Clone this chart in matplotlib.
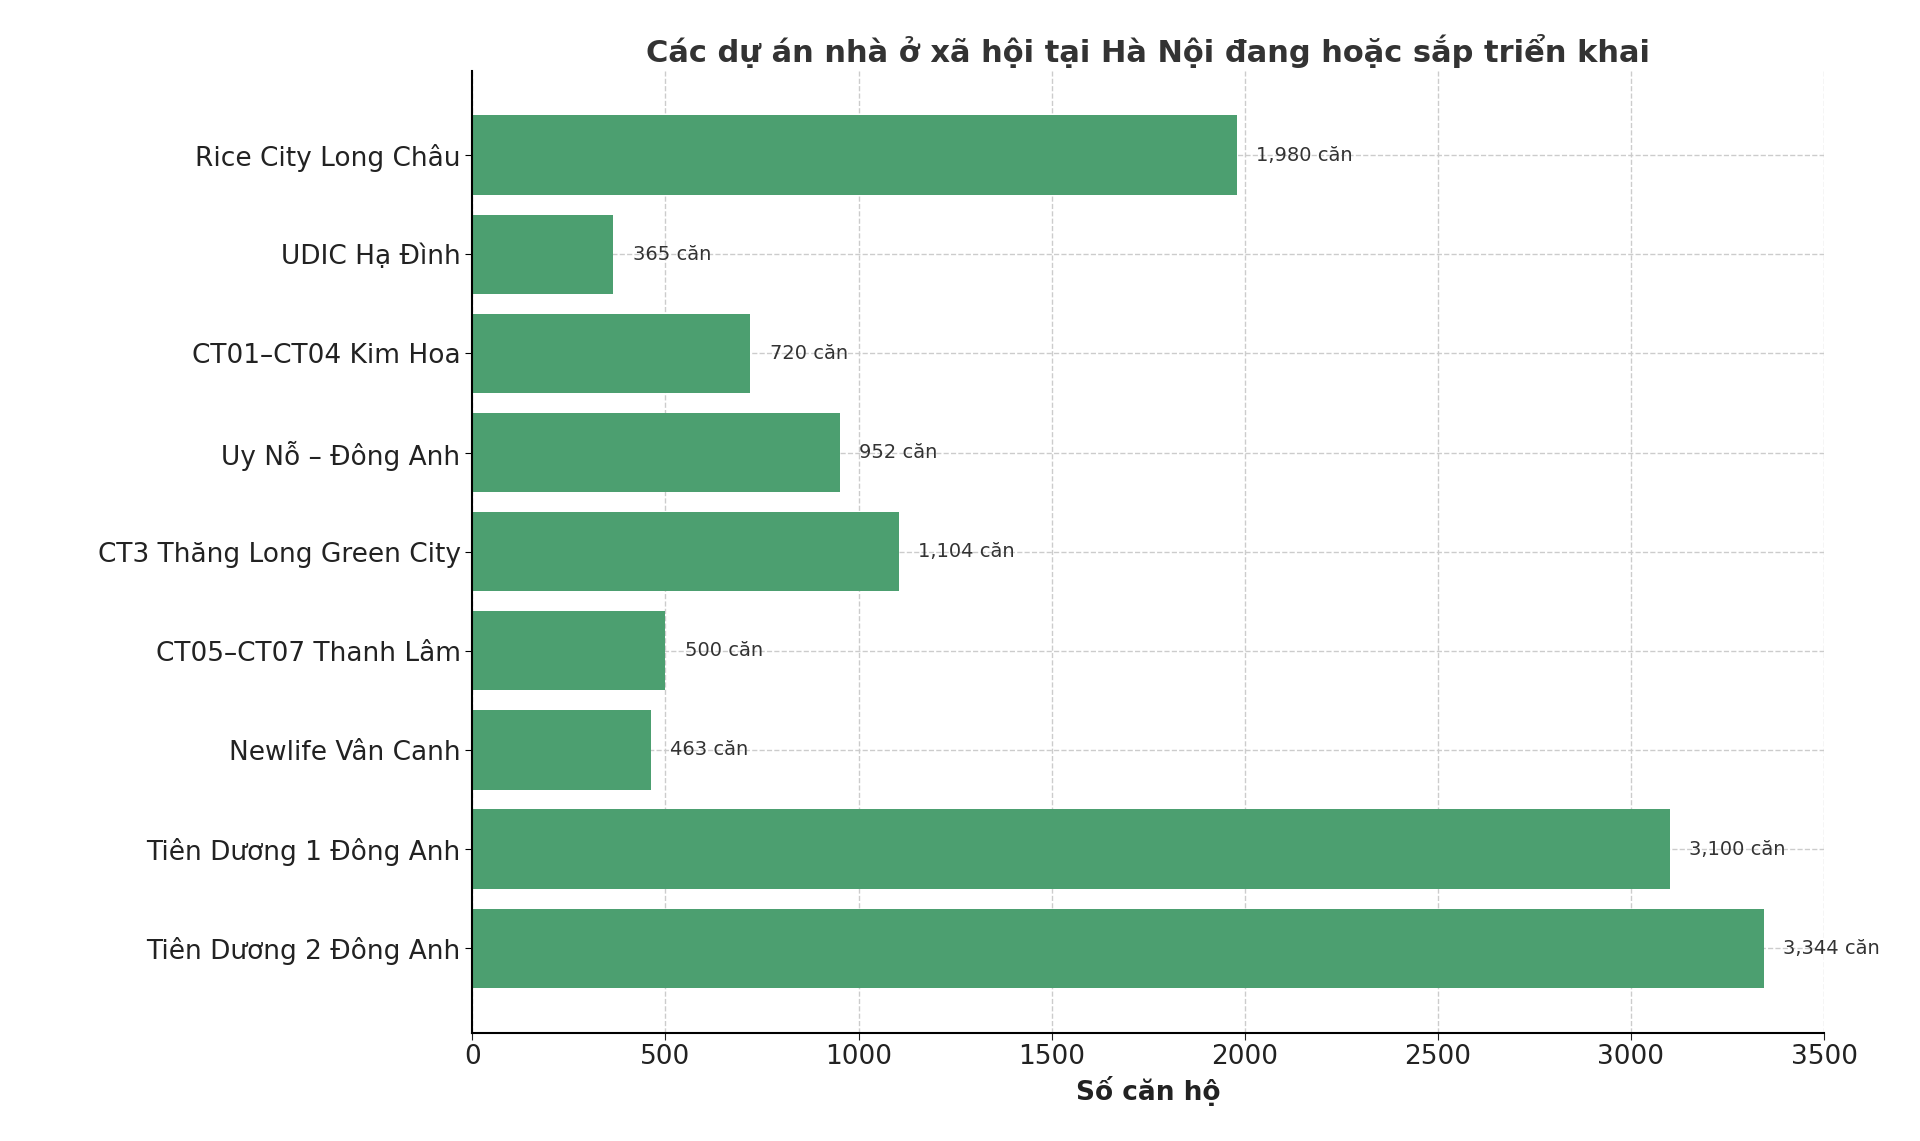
import matplotlib
matplotlib.use("Agg")
import matplotlib.pyplot as plt

projects = ["Rice City Long Châu", "UDIC Hạ Đình", "CT01–CT04 Kim Hoa", "Uy Nỗ – Đông Anh",
            "CT3 Thăng Long Green City", "CT05–CT07 Thanh Lâm", "Newlife Vân Canh",
            "Tiên Dương 1 Đông Anh", "Tiên Dương 2 Đông Anh"]
units = [1980, 365, 720, 952, 1104, 500, 463, 3100, 3344]

plt.rcParams['font.family'] = ['DejaVu Sans']
fig = plt.figure(figsize=(19.2, 11.41), dpi=100)
ax = fig.add_axes([0.246, 0.095, 0.704, 0.843])
y = list(range(len(projects)))[::-1]
ax.barh(y, units, height=0.8, color="#4C9F70", zorder=2)
for yi, v in zip(y, units):
    ax.text(v + 50, yi, f"{v:,} căn", va="center", ha="left", fontsize=14, color="#333333", zorder=3)
ax.set_yticks(y)
ax.set_yticklabels(projects, fontsize=19, color="#222222")
ax.set_xlim(0, 3500)
ax.set_ylim(-0.85, 8.85)
ax.tick_params(axis='x', labelsize=19, colors="#222222")
ax.tick_params(axis='both', length=5)
ax.set_xlabel("Số căn hộ", fontsize=19, fontweight="bold", color="#222222")
ax.set_title("Các dự án nhà ở xã hội tại Hà Nội đang hoặc sắp triển khai", fontsize=22,
             fontweight="bold", color="#333333")
ax.grid(True, linestyle="--", color="#cccccc", linewidth=1, zorder=0)
ax.spines['top'].set_visible(False)
ax.spines['right'].set_visible(False)
ax.spines['left'].set_linewidth(1.5)
ax.spines['bottom'].set_linewidth(1.5)
fig.savefig("out.png", dpi=100)
